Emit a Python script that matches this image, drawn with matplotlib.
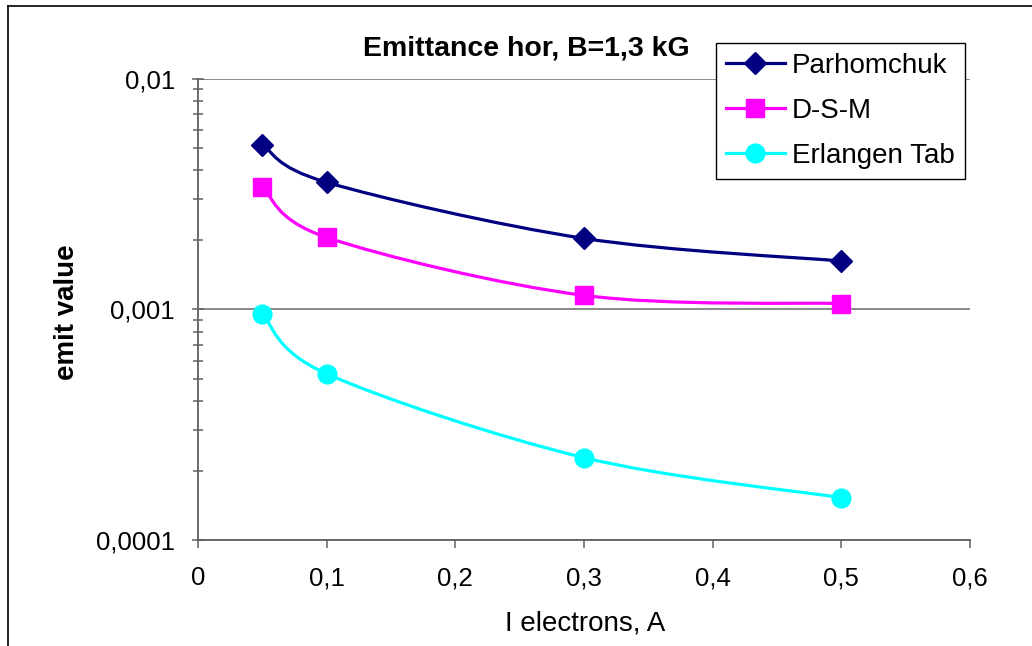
import numpy as np
import matplotlib
matplotlib.use("Agg")
import matplotlib.pyplot as plt
from matplotlib.path import Path
from matplotlib.patches import PathPatch
from matplotlib.lines import Line2D
from matplotlib.ticker import FixedLocator, LogLocator, FuncFormatter, NullFormatter

plt.rcParams['font.family'] = ['Liberation Sans', 'DejaVu Sans']

# data
current = [0.05, 0.1, 0.3, 0.5]
parhomchuk = [0.00517, 0.00355, 0.00203, 0.00162]
dsm = [0.00338, 0.00205, 0.00115, 0.00106]
erlangen = [0.000956, 0.000526, 0.000228, 0.000153]

names = ['Parhomchuk', 'D-S-M', 'Erlangen Tab']
colors = ['#000080', '#FF00FF', '#00FFFF']
markers = ['D', 's', 'o']
msizes = [11.5, 13.5, 13.5]
xticks = [0, 0.1, 0.2, 0.3, 0.4, 0.5, 0.6]


def smooth_path(xs, ys):
    # excel-like smoothed line: catmull-rom bezier in (x, log y)
    p = np.column_stack([xs, np.log10(ys)])
    p = np.vstack([p[0], p, p[-1]])
    verts = [p[1]]
    codes = [Path.MOVETO]
    for i in range(1, len(p) - 2):
        c1 = p[i] + (p[i + 1] - p[i - 1]) / 6
        c2 = p[i + 1] - (p[i + 2] - p[i]) / 6
        verts += [c1, c2, p[i + 1]]
        codes += [Path.CURVE4] * 3
    verts = np.array(verts)
    verts[:, 1] = 10 ** verts[:, 1]
    return Path(verts, codes)


W, H = 1032, 646
fig = plt.figure(figsize=(W / 100, H / 100), dpi=100)
fig.patch.set_facecolor('white')

left, right, top, bottom = 198, 970, 78.5, 540.3
ax = fig.add_axes([left / W, 1 - bottom / H, (right - left) / W, (bottom - top) / H])

handles = []
for ys, name, c, m, ms in zip([parhomchuk, dsm, erlangen], names, colors, markers, msizes):
    ax.add_patch(PathPatch(smooth_path(current, ys), fill=False, edgecolor=c, lw=2.3,
                           capstyle='round', joinstyle='round', zorder=3))
    ax.plot(current, ys, ls='none', marker=m, ms=ms, color=c, mec=c, zorder=4)
    handles.append(Line2D([], [], color=c, lw=2.3, marker=m, ms=ms, mec=c, label=name))

ax.set_yscale('log')
ax.set_ylim(1e-4, 1e-2)
ax.set_xlim(0, 0.6)
ax.xaxis.set_major_locator(FixedLocator(xticks))
ax.xaxis.set_major_formatter(FuncFormatter(lambda v, p: ('%g' % v).replace('.', ',')))
ax.yaxis.set_major_locator(LogLocator(base=10))
ax.yaxis.set_minor_locator(LogLocator(base=10, subs=np.arange(2, 10)))
ax.yaxis.set_major_formatter(FuncFormatter(lambda v, p: ('%g' % v).replace('.', ',')))
ax.yaxis.set_minor_formatter(NullFormatter())

for s in ['top', 'right']:
    ax.spines[s].set_visible(False)
for s in ['left', 'bottom']:
    ax.spines[s].set_color('#606060')
    ax.spines[s].set_linewidth(1.3)

ax.yaxis.grid(True, which='major', color='#808080', lw=1.3)
ax.set_axisbelow(True)

ax.tick_params(axis='y', which='major', direction='inout', length=9, width=1.1,
               color='#606060', labelsize=18.5, pad=12)
ax.tick_params(axis='y', which='minor', direction='inout', length=7.6, width=1.1,
               color='#606060')
ax.tick_params(axis='x', which='major', direction='out', length=5.8, width=1.1,
               color='#606060', labelsize=18.5, pad=13)

ax.set_xlabel('I electrons, A', fontsize=20, va='center')
ax.xaxis.set_label_coords((585 - left) / (right - left), (bottom - 623) / (bottom - top))
ax.set_ylabel('emit value', fontsize=20, fontweight='bold', va='center')
ax.yaxis.set_label_coords((67 - left) / (right - left), (bottom - 312) / (bottom - top))

ax.text((526 - left) / (right - left), (bottom - 48) / (bottom - top),
        'Emittance hor, B=1,3 kG', transform=ax.transAxes, ha='center', va='center',
        fontsize=20.5, fontweight='bold')

leg = ax.legend(handles=handles, loc='upper left', bbox_to_anchor=(715.7 / W, 1 - 42.5 / H),
                bbox_transform=fig.transFigure, borderaxespad=0, fontsize=20,
                frameon=True, fancybox=False, shadow=False, framealpha=1,
                edgecolor='black', handlelength=2.1, handletextpad=0.25,
                labelspacing=0.68, borderpad=0.38)
leg.get_frame().set_linewidth(1.0)

# outer chart border (left and top visible)
fig.add_artist(Line2D([7.5 / W, 7.5 / W], [0, 1 - 6 / H], color='black', lw=1.2,
                      transform=fig.transFigure))
fig.add_artist(Line2D([7.5 / W, 1], [1 - 6 / H, 1 - 6 / H], color='black', lw=1.2,
                      transform=fig.transFigure))

fig.savefig('out.png', dpi=100)
